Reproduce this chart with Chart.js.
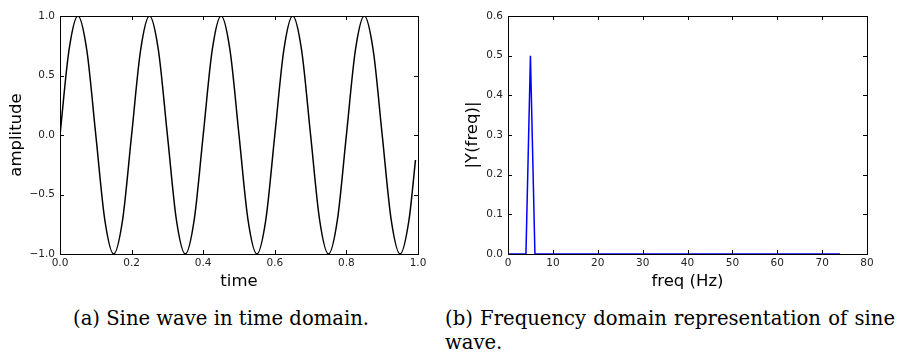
<!DOCTYPE html>
<html lang="en">
<head>
<meta charset="UTF-8">
<title>Sine wave</title>
<script src="https://cdn.jsdelivr.net/npm/chart.js@4/dist/chart.umd.min.js"></script>
<style>
  body { margin: 0; background: #fff; width: 899px; height: 359px; overflow: hidden; position: relative; }
  .plot { position: absolute; top: 0; }
  .cap { position: absolute; font-family: "DejaVu Serif", "Liberation Serif", serif; font-size: 19.6px; line-height: 24px; color: #000; white-space: nowrap; }
  .just { display: block; text-align: justify; text-align-last: justify; white-space: normal; }
</style>
</head>
<body>
<div class="plot" style="left:0;width:440px;height:300px"><canvas id="timeChart"></canvas></div>
<div class="plot" style="left:440px;width:459px;height:300px"><canvas id="freqChart"></canvas></div>
<div class="cap" style="left:73px;top:307px">(a) Sine wave in time domain.</div>
<div class="cap" style="left:445px;top:307px;width:450px">
  <span class="just">(b) Frequency domain representation of sine</span>wave.
</div>
<script>
// time domain
var time = [0, 0.025, 0.05, 0.075, 0.1, 0.125, 0.15, 0.175,
            0.2, 0.225, 0.25, 0.275, 0.3, 0.325, 0.35, 0.375,
            0.4, 0.425, 0.45, 0.475, 0.5, 0.525, 0.55, 0.575,
            0.6, 0.625, 0.65, 0.675, 0.7, 0.725, 0.75, 0.775,
            0.8, 0.825, 0.85, 0.875, 0.9, 0.925, 0.95, 0.975, 0.993];
var amplitude = [0, 0.71, 1, 0.71, 0, -0.71, -1, -0.71,
                 0, 0.71, 1, 0.71, 0, -0.71, -1, -0.71,
                 0, 0.71, 1, 0.71, 0, -0.71, -1, -0.71,
                 0, 0.71, 1, 0.71, 0, -0.71, -1, -0.71,
                 0, 0.71, 1, 0.71, 0, -0.71, -1, -0.71, -0.21];

// spectrum
var freq = [0, 4, 5, 6, 74];
var magnitude = [0, 0, 0.5, 0, 0];

var timeTicks = [-1, -0.5, 0, 0.5, 1];
var tickFont = { family: 'DejaVu Sans', size: 10.5 };
var titleFont = { family: 'DejaVu Sans', size: 16.5 };

function fmt(v) {
    return v < 0 ? '\u2212' + Math.abs(v).toFixed(1) : v.toFixed(1);
}

// box around the plot area and inward ticks on all four sides
var frameTicks = {
    id: 'frameTicks',
    afterDatasetsDraw: function (chart) {
        var ctx = chart.ctx, a = chart.chartArea, x = chart.scales.x, y = chart.scales.y;
        ctx.save();
        ctx.strokeStyle = '#000';
        ctx.lineWidth = 1;
        ctx.beginPath();
        x.ticks.forEach(function (t) {
            var px = Math.round(x.getPixelForValue(t.value)) + 0.5;
            ctx.moveTo(px, a.bottom); ctx.lineTo(px, a.bottom - 4);
            ctx.moveTo(px, a.top); ctx.lineTo(px, a.top + 4);
        });
        y.ticks.forEach(function (t) {
            var py = Math.round(y.getPixelForValue(t.value)) + 0.5;
            ctx.moveTo(a.left, py); ctx.lineTo(a.left + 4, py);
            ctx.moveTo(a.right, py); ctx.lineTo(a.right - 4, py);
        });
        ctx.stroke();
        ctx.strokeRect(Math.round(a.left) + 0.5, Math.round(a.top) + 0.5,
                       Math.round(a.right - a.left), Math.round(a.bottom - a.top));
        ctx.restore();
    }
};

function makeChart(id, xs, ys, color, o) {
    var pts = xs.map(function (v, i) { return { x: v, y: ys[i] }; });
    return new Chart(document.getElementById(id), {
        type: 'line',
        data: { datasets: [{ data: pts, borderColor: color, borderWidth: 1.5, pointRadius: 0,
                             cubicInterpolationMode: o.curve ? 'monotone' : 'default', tension: 0 }] },
        options: {
            responsive: true,
            maintainAspectRatio: false,
            animation: false,
            events: [],
            layout: { padding: { top: 16, right: o.right, bottom: 0, left: 0 } },
            plugins: { legend: { display: false }, tooltip: { enabled: false } },
            scales: {
                x: {
                    type: 'linear', min: o.xmin, max: o.xmax,
                    grid: { display: false, drawTicks: false }, border: { display: false },
                    ticks: { stepSize: o.xstep, font: tickFont, color: '#222', padding: 3, maxRotation: 0,
                             autoSkip: false, callback: o.xfmt },
                    title: { display: true, text: o.xtitle, font: titleFont, color: '#000',
                             padding: { top: 0, bottom: 8 } },
                    afterFit: function (s) { s.height = 46; }
                },
                y: {
                    type: 'linear', min: o.ymin, max: o.ymax,
                    grid: { display: false, drawTicks: false }, border: { display: false },
                    ticks: { stepSize: o.ystep, font: tickFont, color: '#222', padding: 5,
                             autoSkip: false, callback: fmt },
                    title: { display: true, text: o.ytitle, font: titleFont, color: '#000',
                             padding: { top: o.ytpad, bottom: 0 } },
                    afterFit: function (s) { s.width = o.yw; }
                }
            }
        },
        plugins: [frameTicks]
    });
}

makeChart('timeChart', time, amplitude, '#000', {
    curve: true, right: 22, yw: 60, ytpad: 7,
    xmin: 0, xmax: 1, xstep: 0.2, xfmt: fmt, xtitle: 'time',
    ymin: timeTicks[0], ymax: timeTicks[timeTicks.length - 1], ystep: 0.5, ytitle: 'amplitude'
});

makeChart('freqChart', freq, magnitude, '#0000ff', {
    curve: false, right: 32, yw: 68, ytpad: 23,
    xmin: 0, xmax: 80, xstep: 10, xfmt: function (v) { return v; }, xtitle: 'freq (Hz)',
    ymin: 0, ymax: 0.6, ystep: 0.1, ytitle: '|Y(freq)|'
});
</script>
</body>
</html>
